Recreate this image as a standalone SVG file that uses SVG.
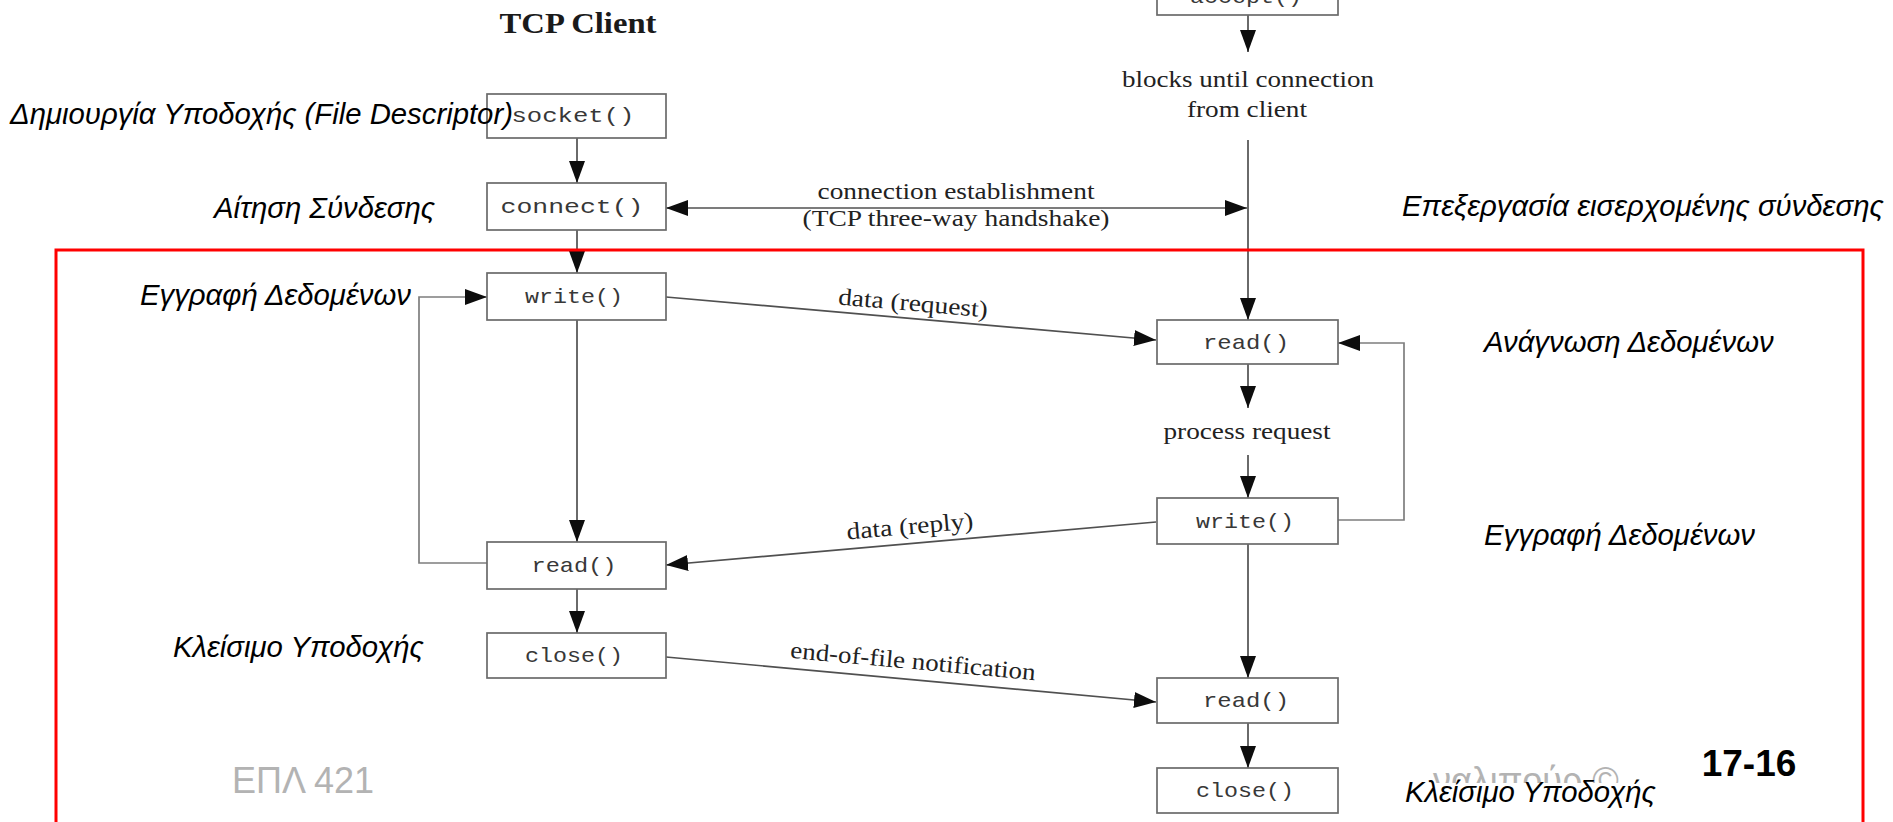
<svg xmlns="http://www.w3.org/2000/svg" width="1893" height="822" viewBox="0 0 1893 822">
  <style>
    .box { fill: #ffffff; stroke: #6a6a6a; stroke-width: 1.7; }
    .fn { font-family: "Liberation Mono", "DejaVu Sans Mono", monospace; font-size: 21px; fill: #383838; text-anchor: middle; }
    .note { font-family: "Liberation Serif", "DejaVu Serif", serif; font-size: 24px; fill: #222222; text-anchor: middle; }
    .gr { font-family: "Liberation Sans", Arial, sans-serif; font-style: italic; font-size: 29.3px; fill: #000000; }
    .wire { fill: none; stroke: #505050; stroke-width: 1.7; }
    .loop { fill: none; stroke: #7e7e7e; stroke-width: 1.7; }
    .arr { marker-end: url(#head); }
    .foot { font-family: "Liberation Sans", Arial, sans-serif; font-size: 36px; fill: #b3b3b3; }
  </style>
  <defs>
    <marker id="head" markerUnits="userSpaceOnUse" markerWidth="24" markerHeight="18" refX="22" refY="8" orient="auto-start-reverse">
      <path d="M0,0 L22,8 L0,16 z" fill="#0d0d0d"/>
    </marker>
    <clipPath id="footClip">
      <rect x="1431" y="740" width="300" height="43"/>
    </clipPath>
  </defs>

  <rect width="1893" height="822" fill="#ffffff"/>

  <!-- footer, partly hidden behind the figure and the closing label -->
  <g id="footer">
    <text class="foot" x="232" y="793">ΕΠΛ 421</text>
    <text class="foot" x="1433" y="793" clip-path="url(#footClip)">ναλιπούρ ©</text>
    <text x="1749" y="776" font-family="'Liberation Sans', Arial, sans-serif" font-weight="bold" font-size="37" text-anchor="middle" fill="#000000">17-16</text>
  </g>

  <!-- column heading -->
  <text id="client-title" x="578" y="33" font-family="'Liberation Serif', 'DejaVu Serif', serif" font-weight="bold" font-size="30" text-anchor="middle" textLength="157" lengthAdjust="spacingAndGlyphs" fill="#1a1a1a">TCP Client</text>

  <!-- connectors -->
  <g id="connectors">
    <!-- client flow -->
    <line class="wire arr" x1="577" y1="138" x2="577" y2="183"/>
    <line class="wire arr" x1="577" y1="230" x2="577" y2="273"/>
    <line class="wire arr" x1="577" y1="320" x2="577" y2="542"/>
    <line class="wire arr" x1="577" y1="589" x2="577" y2="633"/>
    <polyline class="loop arr" points="487,563 419,563 419,297 487,297"/>
    <!-- server flow -->
    <line class="wire arr" x1="1248" y1="15" x2="1248" y2="52"/>
    <line class="wire arr" x1="1248" y1="140" x2="1248" y2="320"/>
    <line class="wire arr" x1="1248" y1="364" x2="1248" y2="408"/>
    <line class="wire arr" x1="1248" y1="455" x2="1248" y2="498"/>
    <line class="wire arr" x1="1248" y1="544" x2="1248" y2="678"/>
    <line class="wire arr" x1="1248" y1="723" x2="1248" y2="768"/>
    <polyline class="loop arr" points="1338,520 1404,520 1404,343 1338,343"/>
    <!-- exchanges between the two sides -->
    <line class="wire" x1="666" y1="208" x2="1247" y2="208" marker-start="url(#head)" marker-end="url(#head)"/>
    <line class="wire arr" x1="666" y1="297" x2="1156" y2="340"/>
    <line class="wire arr" x1="1156" y1="522" x2="666" y2="565"/>
    <line class="wire arr" x1="666" y1="657" x2="1156" y2="702"/>
  </g>

  <!-- connector labels -->
  <g id="connector-labels">
    <text class="note" x="1248" y="87" textLength="252" lengthAdjust="spacingAndGlyphs">blocks until connection</text>
    <text class="note" x="1247" y="117" textLength="120" lengthAdjust="spacingAndGlyphs">from client</text>
    <text class="note" x="956" y="199" textLength="277" lengthAdjust="spacingAndGlyphs">connection establishment</text>
    <text class="note" x="956" y="226" textLength="307" lengthAdjust="spacingAndGlyphs">(TCP three-way handshake)</text>
    <text class="note" x="1247" y="439" textLength="167" lengthAdjust="spacingAndGlyphs">process request</text>
    <text class="note" transform="translate(913,304) rotate(5)" x="0" y="7" textLength="150" lengthAdjust="spacingAndGlyphs">data (request)</text>
    <text class="note" transform="translate(910,527) rotate(-5)" x="0" y="7" textLength="127" lengthAdjust="spacingAndGlyphs">data (reply)</text>
    <text class="note" transform="translate(913,662) rotate(5.2)" x="0" y="7" textLength="246" lengthAdjust="spacingAndGlyphs">end-of-file notification</text>
  </g>

  <!-- client nodes -->
  <g id="client-socket">
    <rect class="box" x="487" y="94" width="179" height="44"/>
    <text class="fn" x="573" y="122" textLength="123" lengthAdjust="spacingAndGlyphs">socket()</text>
  </g>
  <g id="client-connect">
    <rect class="box" x="487" y="183" width="179" height="47"/>
    <text class="fn" x="572" y="213" textLength="143" lengthAdjust="spacingAndGlyphs">connect()</text>
  </g>
  <g id="client-write">
    <rect class="box" x="487" y="273" width="179" height="47"/>
    <text class="fn" x="574" y="303" textLength="98" lengthAdjust="spacingAndGlyphs">write()</text>
  </g>
  <g id="client-read">
    <rect class="box" x="487" y="542" width="179" height="47"/>
    <text class="fn" x="574" y="572" textLength="85" lengthAdjust="spacingAndGlyphs">read()</text>
  </g>
  <g id="client-close">
    <rect class="box" x="487" y="633" width="179" height="45"/>
    <text class="fn" x="574" y="662" textLength="98" lengthAdjust="spacingAndGlyphs">close()</text>
  </g>

  <!-- server nodes -->
  <g id="server-accept">
    <rect class="box" x="1157" y="-30" width="181" height="45"/>
    <text class="fn" x="1246" y="3" textLength="112" lengthAdjust="spacingAndGlyphs">accept()</text>
  </g>
  <g id="server-read">
    <rect class="box" x="1157" y="320" width="181" height="44"/>
    <text class="fn" x="1246" y="349" textLength="86" lengthAdjust="spacingAndGlyphs">read()</text>
  </g>
  <g id="server-write">
    <rect class="box" x="1157" y="498" width="181" height="46"/>
    <text class="fn" x="1245" y="528" textLength="98" lengthAdjust="spacingAndGlyphs">write()</text>
  </g>
  <g id="server-read-eof">
    <rect class="box" x="1157" y="678" width="181" height="45"/>
    <text class="fn" x="1246" y="707" textLength="86" lengthAdjust="spacingAndGlyphs">read()</text>
  </g>
  <g id="server-close">
    <rect class="box" x="1157" y="768" width="181" height="45"/>
    <text class="fn" x="1245" y="797" textLength="98" lengthAdjust="spacingAndGlyphs">close()</text>
  </g>

  <!-- highlighted data-transfer region -->
  <rect id="transfer-frame" x="56" y="250" width="1807" height="620" fill="none" stroke="#ff0000" stroke-width="3"/>

  <!-- step descriptions -->
  <g id="annotations">
    <text class="gr" x="10" y="124">Δημιουργία Υποδοχής (File Descriptor)</text>
    <text class="gr" x="214" y="218">Αίτηση Σύνδεσης</text>
    <text class="gr" x="140" y="305">Εγγραφή Δεδομένων</text>
    <text class="gr" x="173" y="657">Κλείσιμο Υποδοχής</text>
    <text class="gr" x="1402" y="216">Επεξεργασία εισερχομένης σύνδεσης</text>
    <text class="gr" x="1484" y="352">Ανάγνωση Δεδομένων</text>
    <text class="gr" x="1484" y="545">Εγγραφή Δεδομένων</text>
    <text class="gr" x="1405" y="802">Κλείσιμο Υποδοχής</text>
  </g>
</svg>
